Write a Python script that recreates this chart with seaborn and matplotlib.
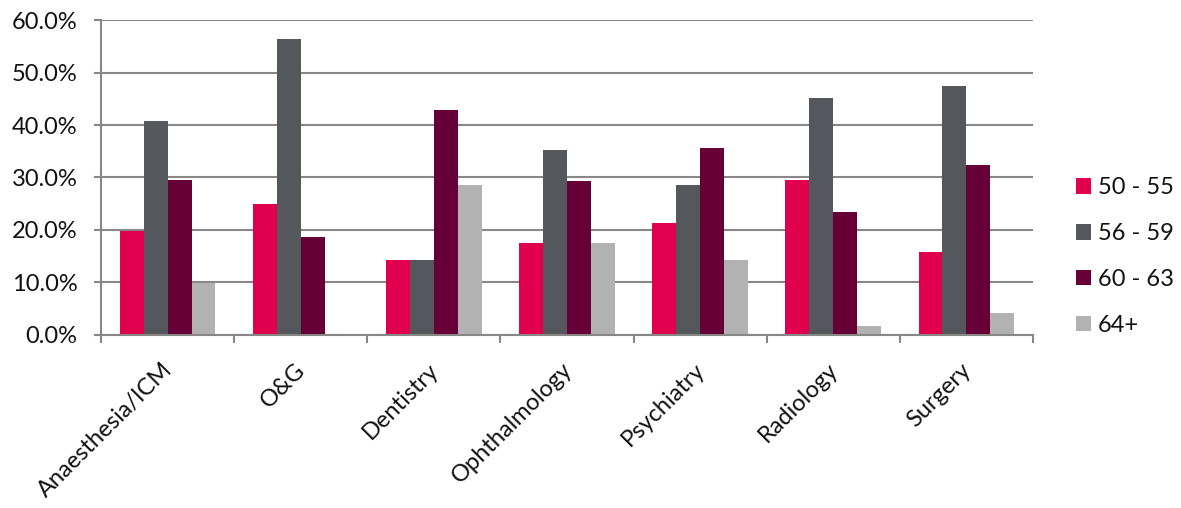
import matplotlib
matplotlib.use("Agg")
import matplotlib.pyplot as plt
from matplotlib.ticker import PercentFormatter, FixedLocator
from matplotlib.transforms import ScaledTranslation
import seaborn as sns
import pandas as pd
import numpy as np

specialties = ["Anaesthesia/ICM", "O&G", "Dentistry", "Ophthalmology",
               "Psychiatry", "Radiology", "Surgery"]
age_groups = ["50 - 55", "56 - 59", "60 - 63", "64+"]

share_50_55 = [19.8, 25.0, 14.3, 17.6, 21.4, 29.5, 15.8]
share_56_59 = [40.8, 56.3, 14.3, 35.3, 28.6, 45.2, 47.4]
share_60_63 = [29.5, 18.7, 42.9, 29.4, 35.7, 23.4, 32.4]
share_64_up = [9.9, 0.0, 28.6, 17.6, 14.3, 1.7, 4.2]

palette = ["#E0004D", "#54575C", "#660036", "#B2B2B3"]

rows = []
for grp, vals in zip(age_groups, [share_50_55, share_56_59, share_60_63, share_64_up]):
    for spec, v in zip(specialties, vals):
        rows.append({"Specialty": spec, "Age": grp, "Share": v})
df = pd.DataFrame(rows)

sns.set_theme(style="white")
plt.rcParams["font.family"] = ["Lato", "DejaVu Sans"]
plt.rcParams["text.color"] = "#111111"
FS = 17

fig = plt.figure(figsize=(11.81, 5.08), dpi=100)
ax = fig.add_axes([0.0855, 0.3406, 0.7892, 0.6200])

sns.barplot(data=df, x="Specialty", y="Share", hue="Age", order=specialties,
            hue_order=age_groups, palette=palette, width=0.72, dodge=True,
            errorbar=None, saturation=1, edgecolor="none", linewidth=0, ax=ax)

ax.set_ylim(0, 60)
ax.set_xlim(-0.5, len(specialties) - 0.5)
ax.yaxis.set_major_formatter(PercentFormatter(decimals=1))
ax.set_yticks(np.arange(0, 61, 10))
ax.grid(axis="y", color="#878787", linewidth=1.5)
ax.set_axisbelow(True)

for side in ["top", "right"]:
    ax.spines[side].set_visible(False)
for side in ["left", "bottom"]:
    ax.spines[side].set_color("#878787")
    ax.spines[side].set_linewidth(1.5)

ax.set_xlabel("")
ax.set_ylabel("")

# category boundary ticks below the x axis
ax.xaxis.set_minor_locator(FixedLocator(np.arange(-0.5, len(specialties), 1.0)))
ax.tick_params(axis="x", which="major", length=0, pad=26, labelcolor="#111111")
ax.tick_params(axis="x", which="minor", length=6, width=1.5, color="#878787",
               direction="out", bottom=True)
ax.tick_params(axis="y", length=5, width=1.5, color="#878787", direction="out",
               left=True, labelsize=FS, pad=12, labelcolor="#111111")

shift = ScaledTranslation(6 / 100, 0, fig.dpi_scale_trans)
for lab in ax.get_xticklabels():
    lab.set_rotation(45)
    lab.set_ha("right")
    lab.set_va("baseline")
    lab.set_rotation_mode("anchor")
    lab.set_fontsize(FS)
    lab.set_transform(lab.get_transform() + shift)

handles, labels = ax.get_legend_handles_labels()
ax.legend_.remove()
fig.legend(handles, labels, loc="center left", bbox_to_anchor=(1076 / 1181, 0.495),
           frameon=False, fontsize=FS, handlelength=0.64, handleheight=0.64,
           handletextpad=0.28, labelspacing=1.05, borderpad=0, borderaxespad=0,
           labelcolor="#111111")

fig.savefig("out.png", dpi=100, facecolor="white")
